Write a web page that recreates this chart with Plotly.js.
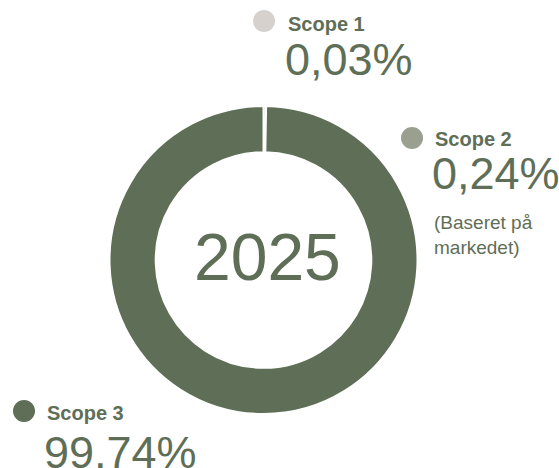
<!DOCTYPE html>
<html>
<head>
<meta charset="utf-8">
<script src="https://cdn.plot.ly/plotly-3.0.1.min.js"></script>
<style>html,body{margin:0;padding:0;background:#fff;}#chart{width:559px;height:468px;}</style>
</head>
<body>
<div id="chart"></div>
<script>
var labels = ["Scope 1", "Scope 2", "Scope 3"];
var values = [0.03, 0.24, 99.74];
var yearLabel = "2025";
var scope2Note = "(Baseret på<br>markedet)";

var W = 559, H = 468;
var green = "#5f6e57";
var sliceColors = ["#d6d1cd", "#9aa090", "#5f6e57"];
function px(x){ return x / W; }
function py(y){ return 1 - y / H; }
function fmt(v){ return v.toFixed(2).replace(".", ",") + "%"; }

var cx = 263.5, cy = 260, r = 154;

var trace = {
  type: "pie",
  labels: labels,
  values: values,
  sort: false,
  direction: "clockwise",
  rotation: 0,
  hole: 0.7,
  textinfo: "none",
  hoverinfo: "none",
  showlegend: false,
  marker: {colors: sliceColors, line: {color: "#ffffff", width: 2}},
  domain: {x: [px(cx - r), px(cx + r)], y: [py(cy + r), py(cy - r)]}
};

var labelPos = [
  {dot: [264, 21], name: [286, 24], pct: [283, 60]},
  {dot: [412, 138], name: [433, 139], pct: [430, 173]},
  {dot: [24, 411], name: [45, 413], pct: [42, 452]}
];

var annotations = [];
var shapes = [];
labels.forEach(function(l, i){
  var p = labelPos[i];
  shapes.push({type: "circle", xref: "paper", yref: "paper", xsizemode: "pixel", ysizemode: "pixel",
    xanchor: px(p.dot[0]), yanchor: py(p.dot[1]), x0: -11, x1: 11, y0: -11, y1: 11,
    fillcolor: sliceColors[i], line: {width: 0}});
  annotations.push({xref: "paper", yref: "paper", x: px(p.name[0]), y: py(p.name[1]), xanchor: "left", yanchor: "middle",
    text: "<b>" + l + "</b>", showarrow: false, font: {family: "Liberation Sans, Arial, sans-serif", size: 20, color: green}});
  annotations.push({xref: "paper", yref: "paper", x: px(p.pct[0]), y: py(p.pct[1]), xanchor: "left", yanchor: "middle",
    text: fmt(values[i]), showarrow: false, font: {family: "Liberation Sans, Arial, sans-serif", size: 45, color: green}});
});
annotations.push({xref: "paper", yref: "paper", x: px(432), y: py(235), xanchor: "left", yanchor: "middle", align: "left",
  text: scope2Note, showarrow: false, font: {family: "Liberation Sans, Arial, sans-serif", size: 19, color: green}});
annotations.push({xref: "paper", yref: "paper", x: px(267), y: py(257), xanchor: "center", yanchor: "middle",
  text: yearLabel, showarrow: false, font: {family: "Liberation Sans, Arial, sans-serif", size: 66, color: green}});

var layout = {
  width: W, height: H,
  margin: {l: 0, r: 0, t: 0, b: 0},
  paper_bgcolor: "#ffffff",
  plot_bgcolor: "#ffffff",
  annotations: annotations,
  shapes: shapes
};

Plotly.newPlot("chart", [trace], layout, {displayModeBar: false, staticPlot: true});
</script>
</body>
</html>
